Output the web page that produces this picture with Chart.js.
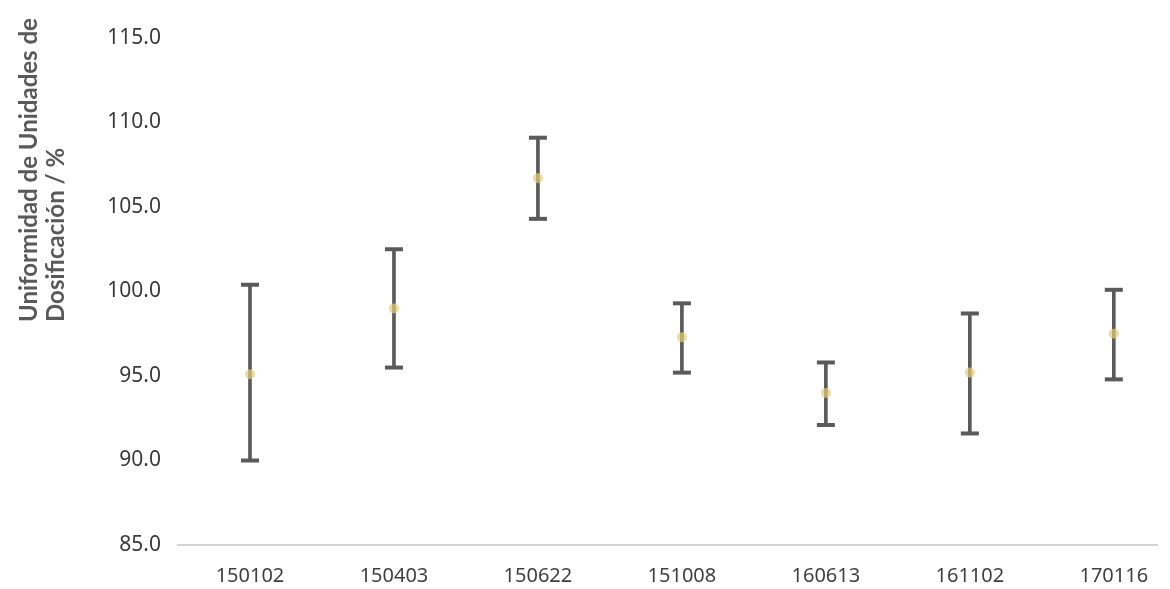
<!DOCTYPE html>
<html lang="es">
<head>
    <meta charset="UTF-8">
    <title>Uniformidad de Unidades de Dosificación</title>
    <script src="https://cdn.jsdelivr.net/npm/chart.js@4.4.1/dist/chart.umd.min.js"></script>
    <style>
        body {
            margin: 0;
            padding: 0;
            background-color: #ffffff;
        }

        .chart-container {
            width: 1170px;
            height: 589px;
        }
    </style>
</head>
<body>

    <div class="chart-container">
        <canvas id="uddChart"></canvas>
    </div>

    <script>
        const lotes = ['150102', '150403', '150622', '151008', '160613', '161102', '170116'];
        const promedio = [95.1, 99.0, 106.7, 97.3, 94.0, 95.2, 97.5];
        const maximo = [100.4, 102.5, 109.1, 99.3, 95.8, 98.7, 100.1];
        const minimo = [90.0, 95.5, 104.3, 95.2, 92.1, 91.6, 94.8];
        const yTicks = [85, 90, 95, 100, 105, 110, 115];
        const yTitle = ['Uniformidad de Unidades de', 'Dosificación / %'];

        const whiskerColor = '#5a5a5a';

        // x is a linear index axis so the last category can run past the right edge like the original
        const pts = arr => arr.map((v, i) => ({ x: i, y: v }));
        const rango = lotes.map((l, i) => ({ x: i, y: [minimo[i], maximo[i]] }));

        // y title is drawn by hand so it can sit left-aligned like the original
        const yTitlePlugin = {
            id: 'yTitle',
            afterDraw(chart) {
                const ctx = chart.ctx;
                ctx.save();
                ctx.fillStyle = '#595959';
                ctx.textAlign = 'left';
                ctx.textBaseline = 'alphabetic';
                ctx.font = 'bold 24px Lato';
                const xs = [37, 64];
                yTitle.forEach((line, i) => {
                    ctx.save();
                    ctx.translate(xs[i], 322);
                    ctx.rotate(-Math.PI / 2);
                    ctx.fillText(line, 0, 0);
                    ctx.restore();
                });
                ctx.restore();
            }
        };

        const config = {
            type: 'bar',
            data: {
                datasets: [
                    {
                        type: 'line',
                        label: 'Promedio',
                        data: pts(promedio),
                        showLine: false,
                        pointStyle: 'circle',
                        pointRadius: 5,
                        pointBackgroundColor: 'rgba(228, 205, 120, 0.7)',
                        pointBorderWidth: 0,
                        order: 0
                    },
                    {
                        type: 'line',
                        label: 'Máximo',
                        data: pts(maximo),
                        showLine: false,
                        pointStyle: 'line',
                        pointRadius: 9,
                        pointBorderColor: whiskerColor,
                        pointBorderWidth: 4,
                        order: 1
                    },
                    {
                        type: 'line',
                        label: 'Mínimo',
                        data: pts(minimo),
                        showLine: false,
                        pointStyle: 'line',
                        pointRadius: 9,
                        pointBorderColor: whiskerColor,
                        pointBorderWidth: 4,
                        order: 1
                    },
                    {
                        label: 'Rango',
                        data: rango,
                        backgroundColor: whiskerColor,
                        borderWidth: 0,
                        barThickness: 3,
                        order: 2
                    }
                ]
            },
            options: {
                responsive: true,
                maintainAspectRatio: false,
                animation: false,
                layout: {
                    padding: { top: 38, right: 5, bottom: 0, left: 0 }
                },
                plugins: {
                    legend: { display: false },
                    tooltip: { enabled: false }
                },
                scales: {
                    x: {
                        type: 'linear',
                        offset: false,
                        min: -0.5,
                        max: 6.3,
                        afterBuildTicks(axis) {
                            axis.ticks = lotes.map((l, i) => ({ value: i }));
                        },
                        grid: { display: false, drawTicks: false },
                        border: { display: true, color: '#d4d4d4', width: 2 },
                        ticks: {
                            color: '#404040',
                            font: { family: 'Noto Sans', size: 20 },
                            padding: 19,
                            maxRotation: 0,
                            callback: function(value) {
                                return lotes[value];
                            }
                        },
                        afterFit(axis) { axis.height = 44; }
                    },
                    y: {
                        min: 85,
                        max: 115,
                        afterBuildTicks(axis) {
                            axis.ticks = yTicks.map(v => ({ value: v }));
                        },
                        grid: { display: false, drawTicks: false },
                        border: { display: false },
                        ticks: {
                            color: '#3a3a3a',
                            font: { family: 'Noto Sans', size: 21 },
                            padding: 17,
                            callback: function(value) {
                                return value.toFixed(1);
                            }
                        },
                        afterFit(axis) { axis.width = 178; }
                    }
                }
            },
            plugins: [yTitlePlugin]
        };

        const ctx = document.getElementById('uddChart').getContext('2d');
        const uddChart = new Chart(ctx, config);
    </script>

</body>
</html>
